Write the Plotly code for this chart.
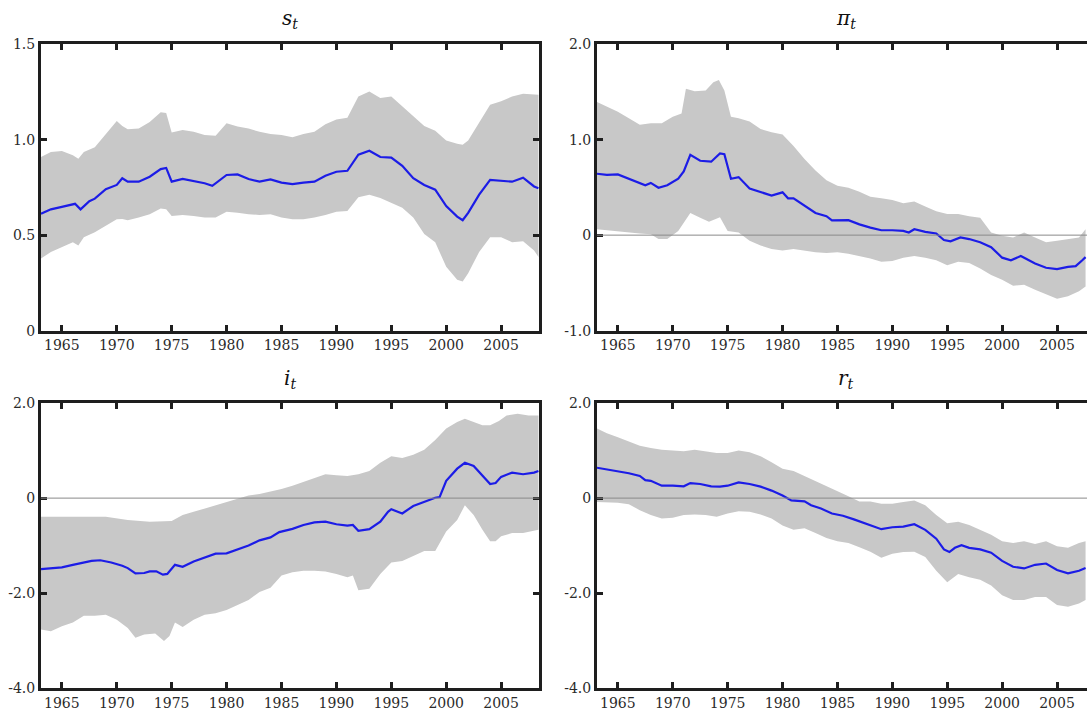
import plotly.graph_objects as go

# ---------------- data ----------------
S_YEARS = [1963.1, 1964, 1965, 1966.2, 1966.7, 1967.5, 1968, 1969, 1970, 1970.5, 1971, 1972, 1973, 1974, 1974.5,
           1975, 1976, 1977, 1978, 1978.7, 1980, 1981, 1982, 1983, 1984, 1985, 1986, 1987, 1988, 1989, 1990,
           1991, 1992, 1993, 1994, 1995, 1996, 1997, 1998, 1999, 2000, 2001, 2001.5, 2002, 2003, 2004, 2005,
           2006, 2007, 2008, 2008.4]
S_MEAN = [0.612, 0.635, 0.648, 0.664, 0.635, 0.678, 0.691, 0.741, 0.763, 0.798, 0.78, 0.78, 0.806, 0.846, 0.852,
          0.78, 0.794, 0.784, 0.772, 0.758, 0.815, 0.818, 0.794, 0.78, 0.792, 0.775, 0.767, 0.775, 0.78, 0.811,
          0.832, 0.837, 0.921, 0.942, 0.909, 0.906, 0.863, 0.798, 0.763, 0.738, 0.652, 0.597, 0.578, 0.617,
          0.712, 0.789, 0.784, 0.78, 0.801, 0.755, 0.746]
S_BAND_YEARS = [1963.1, 1964, 1965, 1966, 1966.5, 1967, 1968, 1969, 1970, 1970.5, 1971, 1972, 1973, 1974, 1974.5,
                1975, 1976, 1977, 1978, 1979, 1980, 1981, 1982, 1983, 1984, 1985, 1986, 1987, 1988, 1989, 1990,
                1991, 1992, 1993, 1994, 1995, 1996, 1997, 1998, 1999, 2000, 2001, 2001.5, 2002, 2003, 2004, 2005,
                2006, 2007, 2008, 2008.4]
S_UPPER = [0.909, 0.935, 0.94, 0.918, 0.90, 0.935, 0.96, 1.03, 1.098, 1.072, 1.055, 1.058, 1.093, 1.144, 1.14,
           1.038, 1.051, 1.041, 1.024, 1.02, 1.086, 1.069, 1.058, 1.041, 1.03, 1.024, 1.012, 1.03, 1.041, 1.081,
           1.106, 1.115, 1.226, 1.252, 1.218, 1.226, 1.175, 1.123, 1.072, 1.046, 0.995, 0.978, 0.973, 0.995,
           1.089, 1.183, 1.201, 1.226, 1.24, 1.235, 1.235]
S_LOWER = [0.377, 0.412, 0.437, 0.463, 0.446, 0.489, 0.515, 0.549, 0.583, 0.585, 0.578, 0.592, 0.609, 0.64, 0.635,
           0.60, 0.606, 0.60, 0.592, 0.592, 0.623, 0.617, 0.609, 0.606, 0.609, 0.592, 0.583, 0.583, 0.592, 0.606,
           0.623, 0.626, 0.698, 0.712, 0.695, 0.669, 0.643, 0.592, 0.506, 0.463, 0.334, 0.266, 0.257, 0.30,
           0.412, 0.489, 0.489, 0.463, 0.468, 0.42, 0.386]

PI_YEARS = [1963.1, 1964, 1965, 1966, 1967, 1967.5, 1968, 1968.7, 1969.5, 1970.5, 1971, 1971.6, 1972.5, 1973.5,
            1974.3, 1974.7, 1975.3, 1976, 1977, 1978, 1979, 1980, 1980.5, 1981, 1982, 1983, 1984, 1984.5, 1986,
            1987, 1988, 1989, 1990, 1991, 1991.5, 1992, 1993, 1994, 1994.7, 1995.3, 1996.2, 1997, 1998, 1999,
            2000, 2000.8, 2001.7, 2003, 2004, 2005, 2006, 2006.7, 2007.3, 2007.6]
PI_MEAN = [0.643, 0.632, 0.636, 0.591, 0.54, 0.523, 0.547, 0.496, 0.523, 0.591, 0.667, 0.841, 0.779, 0.769,
           0.855, 0.848, 0.591, 0.608, 0.489, 0.448, 0.414, 0.448, 0.386, 0.386, 0.311, 0.232, 0.198, 0.154, 0.157,
           0.113, 0.079, 0.051, 0.051, 0.044, 0.027, 0.062, 0.034, 0.017, -0.051, -0.065, -0.024, -0.041, -0.075,
           -0.126, -0.236, -0.263, -0.219, -0.297, -0.342, -0.356, -0.332, -0.325, -0.263, -0.23]
PI_UP_YEARS = [1963.1, 1964, 1965, 1966, 1967, 1968, 1969, 1970, 1970.8, 1971.2, 1972, 1973, 1973.7, 1974.2, 1974.7,
               1975.3, 1976, 1977, 1978, 1979, 1980, 1981, 1982, 1983, 1984, 1985, 1986, 1987, 1988, 1989, 1990,
               1991, 1992, 1993, 1994, 1995, 1996, 1997, 1998, 1999, 2000, 2001, 2002, 2003, 2004, 2005, 2006,
               2007, 2007.6]
PI_UPPER = [1.395, 1.35, 1.292, 1.224, 1.156, 1.173, 1.173, 1.241, 1.275, 1.532, 1.508, 1.515, 1.60, 1.624, 1.515,
            1.241, 1.224, 1.19, 1.111, 1.077, 1.053, 0.933, 0.797, 0.677, 0.574, 0.516, 0.496, 0.455, 0.403, 0.386,
            0.369, 0.335, 0.352, 0.301, 0.25, 0.222, 0.222, 0.198, 0.181, 0.027, -0.007, -0.024, 0.027, -0.024,
            -0.075, -0.058, -0.041, -0.024, 0.062]
PI_LO_YEARS = [1963.1, 1965, 1966, 1967, 1968, 1968.7, 1969.5, 1970.5, 1971.6, 1972.5, 1973.3, 1974.3, 1975,
               1976, 1977, 1978, 1979, 1980, 1981, 1982, 1983, 1984, 1985, 1986, 1987, 1988, 1989, 1990, 1991,
               1992, 1993, 1994, 1995, 1996, 1997, 1998, 1999, 2000, 2001, 2002, 2003, 2004, 2005, 2006, 2007,
               2007.6]
PI_LOWER = [0.062, 0.044, 0.027, 0.017, 0.01, -0.041, -0.041, 0.044, 0.232, 0.181, 0.14, 0.188, 0.044,
            0.027, -0.058, -0.109, -0.144, -0.161, -0.144, -0.161, -0.178, -0.188, -0.178, -0.195, -0.219, -0.246,
            -0.28, -0.27, -0.236, -0.219, -0.236, -0.263, -0.315, -0.28, -0.291, -0.349, -0.417, -0.468, -0.53,
            -0.52, -0.571, -0.622, -0.667, -0.639, -0.588, -0.537]

I_YEARS = [1963.1, 1964, 1965, 1966, 1967, 1967.7, 1968.5, 1969.5, 1970.5, 1971, 1971.7, 1972.5, 1973, 1973.6,
           1974.2, 1974.6, 1975.3, 1976, 1977, 1978, 1979, 1980, 1981, 1982, 1983, 1984, 1984.8, 1986, 1987, 1988,
           1989, 1990, 1991, 1991.5, 1992, 1993, 1994, 1994.7, 1995, 1996, 1997, 1998, 1999, 1999.4, 2000, 2001,
           2001.7, 2002.5, 2003.3, 2004, 2004.5, 2005, 2006, 2007, 2008, 2008.4]
I_MEAN = [-1.491, -1.471, -1.457, -1.402, -1.354, -1.32, -1.306, -1.354, -1.423, -1.471, -1.581, -1.574, -1.54,
          -1.54, -1.608, -1.594, -1.402, -1.443, -1.333, -1.251, -1.168, -1.162, -1.079, -0.997, -0.887, -0.825,
          -0.715, -0.646, -0.564, -0.509, -0.495, -0.55, -0.577, -0.564, -0.687, -0.653, -0.495, -0.289, -0.234,
          -0.323, -0.165, -0.082, 0.007, 0.021, 0.364, 0.619, 0.742, 0.674, 0.467, 0.296, 0.316, 0.447, 0.536,
          0.502, 0.536, 0.57]
I_UP_YEARS = [1963.1, 1966, 1969, 1971, 1973, 1975, 1976, 1977, 1978, 1979, 1980, 1981, 1982, 1983, 1984, 1985,
              1986, 1987, 1988, 1989, 1990, 1991, 1992, 1993, 1994, 1995, 1996, 1997, 1998, 1999, 2000, 2001,
              2001.7, 2002.5, 2003.3, 2004, 2004.8, 2005.5, 2006.5, 2007.5, 2008.4]
I_UPPER = [-0.392, -0.392, -0.392, -0.46, -0.495, -0.481, -0.357, -0.289, -0.22, -0.151, -0.082, 0.0, 0.055,
           0.089, 0.137, 0.192, 0.261, 0.344, 0.433, 0.502, 0.481, 0.467, 0.502, 0.57, 0.742, 0.88, 0.845, 0.914,
           1.017, 1.223, 1.464, 1.601, 1.67, 1.601, 1.533, 1.533, 1.622, 1.739, 1.773, 1.739, 1.739]
I_LO_YEARS = [1963.1, 1964, 1965, 1966, 1967, 1968, 1969, 1970, 1971, 1971.7, 1972.5, 1973.5, 1974.3, 1974.8,
              1975.3, 1976, 1977, 1978, 1979, 1980, 1981, 1982, 1983, 1984, 1985, 1986, 1987, 1988, 1989, 1990,
              1991, 1991.5, 1992, 1993, 1994, 1995, 1996, 1997, 1998, 1999, 2000, 2001, 2001.7, 2002.5, 2003.3,
              2004, 2004.5, 2005, 2006, 2007, 2008, 2008.4]
I_LOWER = [-2.763, -2.797, -2.694, -2.612, -2.474, -2.474, -2.454, -2.557, -2.729, -2.935, -2.866, -2.845,
           -3.003, -2.9, -2.612, -2.708, -2.557, -2.454, -2.419, -2.351, -2.247, -2.144, -1.973, -1.883, -1.629,
           -1.56, -1.526, -1.526, -1.54, -1.595, -1.663, -1.629, -1.938, -1.904, -1.595, -1.354, -1.32, -1.216,
           -1.113, -1.113, -0.701, -0.46, -0.151, -0.357, -0.667, -0.907, -0.907, -0.804, -0.735, -0.735,
           -0.687, -0.667]

R_YEARS = [1963.1, 1964, 1965, 1966, 1967, 1967.5, 1968, 1969, 1970, 1971, 1971.6, 1972.5, 1973.5, 1974.3, 1975,
           1976, 1977, 1978, 1979, 1980, 1980.8, 1982, 1982.6, 1983.5, 1984.5, 1985.5, 1986.5, 1987.5, 1988.5,
           1989, 1990, 1991, 1992, 1993, 1994, 1994.7, 1995.2, 1995.7, 1996.3, 1997, 1998, 1999, 2000, 2001, 2002,
           2003, 2004, 2005, 2006, 2007, 2007.6]
R_MEAN = [0.639, 0.605, 0.57, 0.522, 0.467, 0.378, 0.364, 0.261, 0.261, 0.247, 0.316, 0.296, 0.247, 0.241, 0.261,
          0.33, 0.296, 0.241, 0.158, 0.055, -0.048, -0.069, -0.151, -0.22, -0.323, -0.371, -0.447, -0.529, -0.619,
          -0.653, -0.612, -0.598, -0.55, -0.667, -0.852, -1.079, -1.134, -1.045, -0.99, -1.045, -1.079, -1.148,
          -1.32, -1.443, -1.478, -1.402, -1.375, -1.512, -1.581, -1.526, -1.471]
R_BAND_YEARS = [1963.1, 1964, 1965, 1966, 1967, 1968, 1969, 1970, 1971, 1972, 1973, 1974, 1975, 1976, 1977,
                1978, 1979, 1980, 1981, 1982, 1983, 1984, 1985, 1986, 1987, 1988, 1989, 1990, 1991, 1992, 1993,
                1994, 1995, 1996, 1997, 1998, 1999, 2000, 2001, 2002, 2003, 2004, 2005, 2006, 2007, 2007.6]
R_UPPER = [1.464, 1.361, 1.278, 1.189, 1.10, 1.052, 1.017, 1.003, 0.983, 1.017, 0.983, 0.948, 0.948, 1.003, 0.962,
           0.88, 0.756, 0.619, 0.57, 0.467, 0.364, 0.261, 0.158, 0.041, -0.069, -0.069, -0.117, -0.117, -0.082,
           -0.048, -0.151, -0.357, -0.529, -0.495, -0.564, -0.667, -0.77, -0.907, -0.942, -0.907, -0.962, -0.907,
           -1.01, -1.045, -0.942, -0.907]
R_LOWER = [-0.082, -0.09, -0.096, -0.131, -0.254, -0.357, -0.426, -0.412, -0.357, -0.344, -0.357, -0.392, -0.323,
           -0.275, -0.289, -0.344, -0.426, -0.577, -0.667, -0.632, -0.735, -0.838, -0.907, -0.942, -1.031, -1.127,
           -1.251, -1.168, -1.134, -1.127, -1.237, -1.526, -1.766, -1.595, -1.663, -1.718, -1.835, -2.041, -2.144,
           -2.144, -2.076, -2.076, -2.247, -2.282, -2.213, -2.144]

X_TICKS = [1965, 1970, 1975, 1980, 1985, 1990, 1995, 2000, 2005]
X_TICK_TEXT = ["1965", "1970", "1975", "1980", "1985", "1990", "1995", "2000", "2005"]
Y1_TICKS, Y1_TEXT = [0, 0.5, 1.0, 1.5], ["0", "0.5", "1.0", "1.5"]
Y2_TICKS, Y2_TEXT = [-1, 0, 1, 2], ["-1.0", "0", "1.0", "2.0"]
Y34_TICKS, Y34_TEXT = [-4, -2, 0, 2], ["-4.0", "-2.0", "0", "2.0"]
TITLES = ["<i>s<sub>t</sub></i>", "<i>π<sub>t</sub></i>", "<i>i<sub>t</sub></i>", "<i>r<sub>t</sub></i>"]

panels = [
    (S_YEARS, S_MEAN, S_BAND_YEARS, S_UPPER, S_BAND_YEARS, S_LOWER),
    (PI_YEARS, PI_MEAN, PI_UP_YEARS, PI_UPPER, PI_LO_YEARS, PI_LOWER),
    (I_YEARS, I_MEAN, I_UP_YEARS, I_UPPER, I_LO_YEARS, I_LOWER),
    (R_YEARS, R_MEAN, R_BAND_YEARS, R_UPPER, R_BAND_YEARS, R_LOWER),
]
for p in panels:
    assert len(p[0]) == len(p[1]) and len(p[2]) == len(p[3]) and len(p[4]) == len(p[5]), [len(a) for a in p]

# ---------------- figure ----------------
W, H = 1087, 715
BAND = "#c8c8c8"
BLUE = "#1c1ce6"
FRAME = "#1e1e1e"
FONT = "DejaVu Serif"

fig = go.Figure()
for k, (yrs, mean, uy, up, ly, lo) in enumerate(panels):
    n = "" if k == 0 else str(k + 1)
    fig.add_trace(go.Scatter(x=list(uy) + list(ly)[::-1], y=list(up) + list(lo)[::-1],
                             fill="toself", fillcolor=BAND, line=dict(width=0), mode="lines",
                             hoverinfo="skip", showlegend=False, xaxis="x" + n, yaxis="y" + n))
    fig.add_trace(go.Scatter(x=yrs, y=mean, mode="lines", line=dict(color=BLUE, width=2.2),
                             showlegend=False, xaxis="x" + n, yaxis="y" + n))

xl = [41 / W, 539 / W]
xr = [597 / W, 1.0]
yt = [1 - 330 / H, 1 - 37 / H]
yb = [1 - 696 / H, 1 - 404 / H]

specs = [
    (xl, yt, [1963.1, 2008.45], [0, 1.5], Y1_TICKS, Y1_TEXT, "ticks"),
    (xr, yt, [1963.1, 2007.73], [-1, 2], Y2_TICKS, Y2_TEXT, False),
    (xl, yb, [1963.1, 2008.45], [-4, 2], Y34_TICKS, Y34_TEXT, "ticks"),
    (xr, yb, [1963.1, 2007.73], [-4, 2], Y34_TICKS, Y34_TEXT, False),
]
layout = {"width": W, "height": H, "margin": {"l": 0, "r": 0, "t": 0, "b": 0},
          "paper_bgcolor": "white", "plot_bgcolor": "white", "showlegend": False,
          "font": {"family": FONT, "size": 14, "color": "#2a2a2a"}}
for k, (xd, yd, xr_, yr_, yv, ytxt, ymir) in enumerate(specs):
    n = "" if k == 0 else str(k + 1)
    layout["xaxis" + n] = {
        "domain": xd, "range": xr_, "anchor": "y" + n,
        "tickmode": "array", "tickvals": X_TICKS, "ticktext": X_TICK_TEXT,
        "ticks": "inside", "ticklen": 6, "tickwidth": 3, "tickcolor": FRAME,
        "showline": True, "linewidth": 3, "linecolor": FRAME, "mirror": "ticks",
        "showgrid": False, "zeroline": False,
        "tickfont": {"family": FONT, "size": 14, "color": "#2a2a2a"},
    }
    layout["yaxis" + n] = {
        "domain": yd, "range": yr_, "anchor": "x" + n,
        "tickmode": "array", "tickvals": yv, "ticktext": ytxt,
        "ticks": "inside", "ticklen": 6, "tickwidth": 3, "tickcolor": FRAME,
        "showline": True, "linewidth": 3, "linecolor": FRAME, "mirror": ymir,
        "showgrid": False, "zeroline": False,
        "tickfont": {"family": FONT, "size": 14, "color": "#2a2a2a"},
    }
fig.update_layout(layout)

# zero reference lines
for k in (1, 2, 3):
    n = str(k + 1)
    fig.add_shape(type="line", xref="x" + n + " domain", x0=0, x1=1, yref="y" + n, y0=0, y1=0,
                  line=dict(color="#8a8a8a", width=1), layer="above")

# panel titles
title_pos = [((xl[0] + xl[1]) / 2, 1 - 11 / H), (846 / W, 1 - 11 / H),
             ((xl[0] + xl[1]) / 2, 1 - 380 / H), (846 / W, 1 - 380 / H)]
for t, (tx, ty) in zip(TITLES, title_pos):
    fig.add_annotation(text=t, x=tx, y=ty, xref="paper", yref="paper", showarrow=False,
                       xanchor="center", yanchor="middle", font=dict(family=FONT, size=20, color="#111"))

fig.write_html("out.html")
